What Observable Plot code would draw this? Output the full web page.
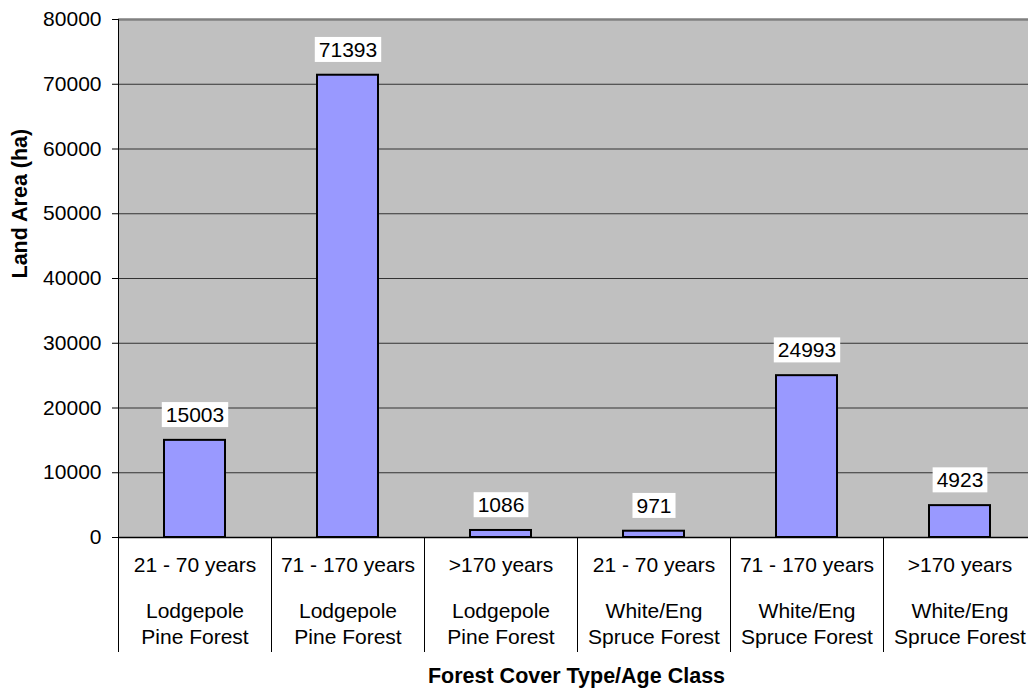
<!DOCTYPE html>
<html>
<head>
<meta charset="utf-8">
<script src="https://cdn.jsdelivr.net/npm/d3@7"></script>
<script src="https://cdn.jsdelivr.net/npm/@observablehq/plot@0.6"></script>
<style>
  html, body { margin: 0; padding: 0; background: #fff; overflow: hidden; }
</style>
</head>
<body>
<script>
const ageClasses = ["21 - 70 years", "71 - 170 years", ">170 years", "21 - 70 years", "71 - 170 years", ">170 years"];
const coverTypes = ["Lodgepole\nPine Forest", "Lodgepole\nPine Forest", "Lodgepole\nPine Forest",
                    "White/Eng\nSpruce Forest", "White/Eng\nSpruce Forest", "White/Eng\nSpruce Forest"];
const areas = [15003, 71393, 1086, 971, 24993, 4923];
const yTicks = [0, 10000, 20000, 30000, 40000, 50000, 60000, 70000, 80000];
const xTitle = "Forest Cover Type/Age Class";
const yTitle = "Land Area (ha)";

const data = areas.map((v, i) => ({key: i, age: ageClasses[i], cover: coverTypes[i], area: v}));
const keys = data.map(d => d.key);
const step = (1036.3 - 118.3) / keys.length;
const FS = 21;

const svg = Plot.plot({
  width: 1028,
  height: 690,
  marginLeft: 118,
  marginRight: 0,
  marginTop: 19,
  marginBottom: 153,
  style: {fontFamily: "'Liberation Sans', Arial, sans-serif", fontSize: FS + "px", background: "#fff", color: "#000"},
  x: {type: "band", domain: keys, range: [118.3, 1036.3], paddingInner: 0.6, paddingOuter: 0.3, axis: null},
  y: {domain: [0, 80000]},
  marks: [
    Plot.frame({fill: "#c0c0c0", stroke: null}),
    Plot.gridY(yTicks, {stroke: "#333", strokeOpacity: 1, strokeWidth: 1}),
    Plot.axisY(yTicks, {tickSize: 6, tickPadding: 11, fontSize: FS, label: null, stroke: "#000", tickFormat: d => String(d)}),
    Plot.ruleY([80000], {stroke: "#808080", strokeWidth: 2.5}),
    Plot.barY(data, {x: "key", y: "area", fill: "#9999ff", stroke: "#000", strokeWidth: 2}),
    Plot.ruleY([0], {stroke: "#000", strokeWidth: 1.5}),
    // axis line + first separator
    Plot.ruleX(keys.slice(0, 1), {x: d => d, dx: -step / 2, stroke: "#000", strokeWidth: 1, insetBottom: -115}),
    // category separators below the axis
    Plot.ruleX(keys.slice(1), {x: d => d, dx: -step / 2, stroke: "#000", strokeWidth: 1, insetTop: 518, insetBottom: -115}),
    Plot.text(data, {x: "key", y: "area", text: d => String(d.area), dy: -25, fontSize: FS, fill: "#000"}),
    Plot.text(data, {x: "key", text: "age", frameAnchor: "bottom", dy: 28, lineAnchor: "middle", fontSize: FS, fill: "#000"}),
    Plot.text(data, {x: "key", text: "cover", frameAnchor: "bottom", dy: 85, lineAnchor: "middle", lineHeight: 1.24, fontSize: FS, fill: "#000"}),
    Plot.text([xTitle], {text: d => d, frameAnchor: "bottom", dx: 3, dy: 145, fontSize: 21.5, fontWeight: "bold", fill: "#000"}),
    Plot.text([yTitle], {text: d => d, frameAnchor: "left", dx: -98, rotate: -90, fontSize: 21.5, fontWeight: "bold", fill: "#000"})
  ]
});
document.body.appendChild(svg);

// white boxes behind the value labels
const labelSet = new Set(areas.map(String));
d3.select(svg).selectAll("text").each(function () {
  if (!labelSet.has(this.textContent.trim())) return;
  const b = this.getBBox();
  const r = document.createElementNS("http://www.w3.org/2000/svg", "rect");
  r.setAttribute("x", b.x - 4);
  r.setAttribute("y", b.y - 1);
  r.setAttribute("width", b.width + 8);
  r.setAttribute("height", b.height + 2);
  r.setAttribute("fill", "#fff");
  const t = this.getAttribute("transform");
  if (t) r.setAttribute("transform", t);
  this.parentNode.insertBefore(r, this);
});
</script>
</body>
</html>
